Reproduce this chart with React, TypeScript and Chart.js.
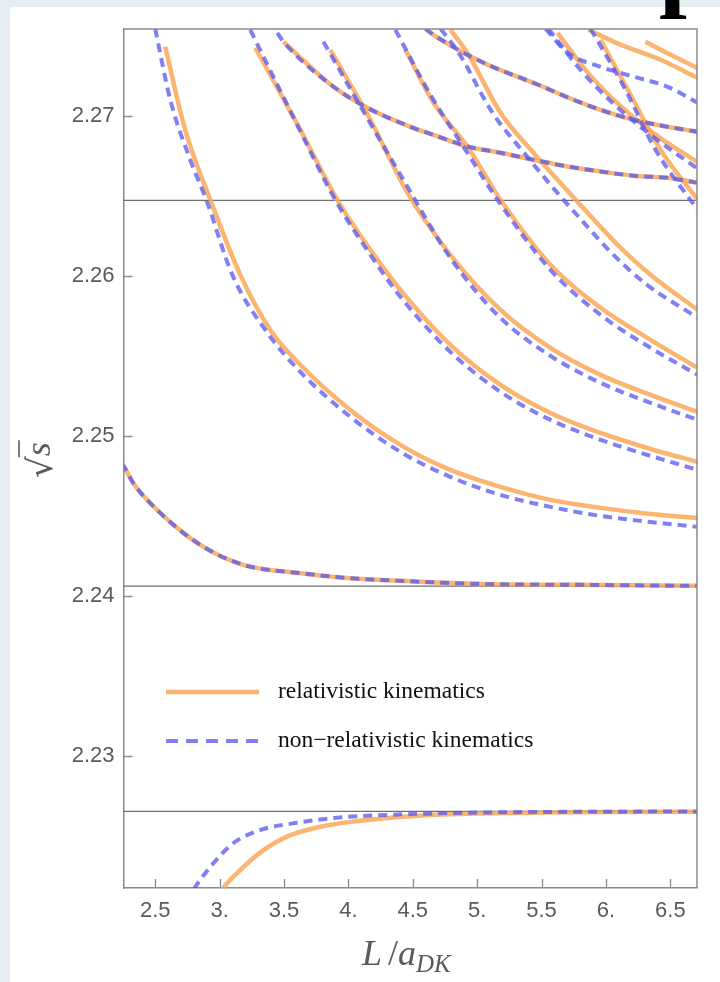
import React, { useEffect, useRef } from 'react';
import { Chart, registerables } from 'chart.js';

Chart.register(...registerables);

// Axis ticks
const xTicks = [2.5, 3, 3.5, 4, 4.5, 5, 5.5, 6, 6.5];
const xTickLabels = ['2.5', '3.', '3.5', '4.', '4.5', '5.', '5.5', '6.', '6.5'];
const yTicks = [2.23, 2.24, 2.25, 2.26, 2.27];
const yTickLabels = ['2.23', '2.24', '2.25', '2.26', '2.27'];
const xRange = [2.254, 6.707];
const yRange = [2.22177, 2.27544];

// Horizontal reference energies
const thresholds = [2.22656, 2.24063, 2.26473];

// Energy levels, relativistic kinematics: [L/a, sqrt(s)]
const relA = [[2.99, 2.2213], [3.031, 2.2218], [3.16, 2.22289], [3.315, 2.22398], [3.523, 2.22498], [3.782, 2.2256], [4.093, 2.22597], [4.504, 2.22627], [5.0, 2.22642], [5.5, 2.22649], [6.0, 2.22652], [6.72, 2.22654]];
const relB = [[2.24, 2.2483], [2.259, 2.24808], [2.329, 2.24708], [2.539, 2.24521], [2.85, 2.24321], [3.184, 2.24196], [3.627, 2.24144], [4.016, 2.24113], [4.35, 2.24098], [5.025, 2.24077], [5.802, 2.24071], [6.72, 2.24065]];
const relC = [[2.578, 2.27433], [2.733, 2.26914], [2.928, 2.26477], [3.161, 2.26008], [3.394, 2.25664], [3.627, 2.25446], [4.015, 2.25164], [4.404, 2.24946], [4.792, 2.24789], [5.181, 2.24683], [5.569, 2.24602], [5.958, 2.24552], [6.346, 2.24514], [6.712, 2.24489]];
const relD = [[3.277, 2.27427], [3.627, 2.26914], [3.914, 2.26477], [4.171, 2.26164], [4.404, 2.25914], [4.792, 2.2557], [5.181, 2.2532], [5.569, 2.25145], [5.958, 2.2502], [6.346, 2.2492], [6.712, 2.24839]];
const relE = [[3.86, 2.27414], [4.171, 2.26977], [4.458, 2.26521], [4.792, 2.26133], [5.181, 2.25789], [5.569, 2.25552], [5.958, 2.25383], [6.346, 2.25258], [6.712, 2.25152]];
const relF = [[4.443, 2.27414], [4.661, 2.27083], [4.925, 2.26808], [5.181, 2.26477], [5.569, 2.26071], [5.958, 2.25802], [6.346, 2.25602], [6.712, 2.25427]];
const relG = [[4.792, 2.27539], [4.924, 2.27396], [5.181, 2.27021], [5.437, 2.26771], [5.624, 2.26602], [5.857, 2.26396], [6.09, 2.26196], [6.346, 2.26008], [6.712, 2.25789]];
const relH = [[5.624, 2.2752], [5.857, 2.27273], [6.09, 2.27079], [6.37, 2.26892], [6.712, 2.26711]];
const relI = [[5.958, 2.27477], [6.191, 2.27133], [6.424, 2.26789], [6.712, 2.26477]];
const relM = [[3.496, 2.27464], [3.885, 2.27183], [4.147, 2.27052], [4.482, 2.26933], [4.661, 2.26883], [4.925, 2.2681], [5.181, 2.26771], [5.437, 2.26727], [5.702, 2.26685], [5.958, 2.26654], [6.215, 2.26627], [6.479, 2.26614], [6.712, 2.26583]];
const relN = [[4.598, 2.27546], [4.66, 2.27508], [5.049, 2.27333], [5.437, 2.27208], [5.748, 2.27102], [5.958, 2.27039], [6.215, 2.26977], [6.479, 2.26933], [6.712, 2.26902]];
const relT1 = [[5.865, 2.27539], [6.113, 2.27446], [6.424, 2.27352], [6.712, 2.27239]];
const relT2 = [[6.307, 2.27464], [6.502, 2.27383], [6.712, 2.273]];

// Energy levels, non-relativistic kinematics
const nrA = [[2.8, 2.2217], [2.832, 2.22208], [2.929, 2.2231], [3.108, 2.22458], [3.316, 2.22539], [3.601, 2.22585], [3.912, 2.22616], [4.482, 2.22639], [5.0, 2.22648], [5.5, 2.22652], [6.72, 2.22655]];
const nrB = [[2.24, 2.2483], [2.259, 2.24808], [2.329, 2.24708], [2.539, 2.24521], [2.85, 2.24321], [3.184, 2.24196], [3.627, 2.24144], [4.016, 2.24113], [4.35, 2.24098], [5.025, 2.24077], [5.802, 2.24071], [6.72, 2.24065]];
const nrC = [[2.5, 2.27546], [2.617, 2.27102], [2.772, 2.26727], [2.897, 2.26477], [3.099, 2.26008], [3.355, 2.25664], [3.627, 2.25402], [4.015, 2.25121], [4.404, 2.24902], [4.792, 2.24746], [5.181, 2.24633], [5.569, 2.24558], [5.958, 2.24502], [6.346, 2.24464], [6.712, 2.24433]];
const nrD = [[3.238, 2.27539], [3.603, 2.26945], [3.898, 2.26477], [4.171, 2.26133], [4.404, 2.25871], [4.792, 2.25527], [5.181, 2.25277], [5.569, 2.25102], [5.958, 2.24977], [6.346, 2.24877], [6.712, 2.24789]];
const nrE = [[3.806, 2.27464], [4.132, 2.27008], [4.427, 2.26602], [4.792, 2.26114], [5.181, 2.25739], [5.569, 2.25502], [5.958, 2.25333], [6.346, 2.25208], [6.712, 2.25102]];
const nrF = [[4.365, 2.27539], [4.637, 2.27133], [4.909, 2.26789], [5.158, 2.26477], [5.569, 2.26039], [5.958, 2.25758], [6.346, 2.25552], [6.712, 2.25383]];
const nrG = [[4.716, 2.27546], [4.856, 2.27396], [5.119, 2.27021], [5.383, 2.26752], [5.569, 2.26571], [5.802, 2.26358], [6.035, 2.26152], [6.308, 2.25952], [6.712, 2.2574]];
const nrH = [[5.553, 2.27546], [5.802, 2.27289], [6.051, 2.27083], [6.346, 2.26883], [6.712, 2.26671]];
const nrI = [[5.88, 2.27546], [6.152, 2.27164], [6.385, 2.26789], [6.712, 2.26414]];
const nrM = [[3.448, 2.2752], [3.496, 2.27464], [3.885, 2.27183], [4.147, 2.27052], [4.482, 2.26933], [4.661, 2.26883], [4.925, 2.2681], [5.181, 2.26771], [5.437, 2.26727], [5.702, 2.26685], [5.958, 2.26654], [6.215, 2.26627], [6.479, 2.26614], [6.712, 2.26583]];
const nrN = [[4.598, 2.27546], [4.66, 2.27508], [5.049, 2.27333], [5.437, 2.27208], [5.748, 2.27102], [5.958, 2.27039], [6.215, 2.26977], [6.479, 2.26933], [6.712, 2.26902]];
const nrT = [[5.53, 2.27546], [5.701, 2.27396], [5.958, 2.27308], [6.215, 2.27246], [6.479, 2.27183], [6.712, 2.27083]];

const relLevels = [relA, relB, relC, relD, relE, relF, relG, relH, relI, relM, relN, relT1, relT2];
const nrLevels = [nrA, nrB, nrC, nrD, nrE, nrF, nrG, nrH, nrI, nrM, nrN, nrT];

const legendLabels = ['relativistic kinematics', 'non\u2212relativistic kinematics'];

const ORANGE = 'rgba(252, 168, 88, 0.85)';
const BLUE = 'rgba(92, 92, 238, 0.78)';
const AXIS = '#8a8a8a';
const LABEL = '#5a5a5a';

const toPts = (arr: number[][]) => arr.map(([x, y]) => ({ x, y }));

const framePlugin = {
  id: 'frameTicks',
  afterDraw(chart: any) {
    const { ctx, chartArea: a, scales } = chart;
    ctx.save();
    ctx.strokeStyle = AXIS;
    ctx.lineWidth = 1.5;
    ctx.beginPath();
    ctx.moveTo(a.left, a.top);
    ctx.lineTo(a.right, a.top);
    ctx.lineTo(a.right, a.bottom);
    ctx.stroke();
    ctx.lineWidth = 1.3;
    ctx.beginPath();
    xTicks.forEach((t) => {
      const px = Math.round(scales.x.getPixelForValue(t)) + 0.5;
      ctx.moveTo(px, a.bottom);
      ctx.lineTo(px, a.bottom - 9);
    });
    yTicks.forEach((t) => {
      const py = Math.round(scales.y.getPixelForValue(t)) + 0.5;
      ctx.moveTo(a.left, py);
      ctx.lineTo(a.left + 9, py);
    });
    ctx.stroke();
    ctx.restore();
  },
};

const textPlugin = {
  id: 'titlesLegend',
  afterDraw(chart: any) {
    const { ctx } = chart;
    ctx.save();
    // x title: L / a_DK
    ctx.fillStyle = LABEL;
    ctx.textBaseline = 'alphabetic';
    ctx.textAlign = 'left';
    let x = 362;
    const base = 965;
    ctx.font = 'italic 36px "Liberation Serif"';
    ctx.fillText('L', x, base);
    x += ctx.measureText('L').width + 6;
    ctx.font = '36px "Liberation Serif"';
    ctx.fillText('/', x, base);
    x += ctx.measureText('/').width;
    ctx.font = 'italic 36px "Liberation Serif"';
    ctx.fillText('a', x, base);
    x += ctx.measureText('a').width;
    ctx.font = 'italic 25px "Liberation Serif"';
    ctx.fillText('DK', x, base + 7);

    // y title: sqrt(s), rotated
    ctx.translate(52, 478);
    ctx.rotate(-Math.PI / 2);
    ctx.font = '34px "DejaVu Serif"';
    ctx.fillText('\u221A', 0, 0);
    const rw = ctx.measureText('\u221A').width;
    ctx.font = 'italic 36px "Liberation Serif"';
    ctx.fillText('s', rw, -2);
    const sw = ctx.measureText('s').width;
    ctx.strokeStyle = LABEL;
    ctx.lineWidth = 1.6;
    ctx.beginPath();
    ctx.moveTo(rw - 1, -33);
    ctx.lineTo(rw + sw + 2, -33);
    ctx.stroke();
    ctx.setTransform(1, 0, 0, 1, 0, 0);

    // legend
    ctx.lineWidth = 4.5;
    ctx.strokeStyle = ORANGE;
    ctx.beginPath();
    ctx.moveTo(166, 692);
    ctx.lineTo(259, 692);
    ctx.stroke();
    ctx.strokeStyle = BLUE;
    ctx.lineWidth = 4;
    ctx.setLineDash([12, 8]);
    ctx.beginPath();
    ctx.moveTo(166, 741);
    ctx.lineTo(262, 741);
    ctx.stroke();
    ctx.setLineDash([]);
    ctx.fillStyle = '#111';
    ctx.font = '23.5px "Liberation Serif"';
    ctx.textBaseline = 'middle';
    ctx.fillText(legendLabels[0], 278, 692);
    ctx.fillText(legendLabels[1], 278, 741);
    ctx.restore();
  },
};

export default function App() {
  const ref = useRef<HTMLCanvasElement | null>(null);

  useEffect(() => {
    if (!ref.current) return;
    const datasets: any[] = [];
    thresholds.forEach((t) => {
      datasets.push({
        data: [{ x: xRange[0], y: t }, { x: xRange[1], y: t }],
        borderColor: '#6f6f6f',
        borderWidth: 1.2,
        pointRadius: 0,
        showLine: true,
        order: 3,
      });
    });
    relLevels.forEach((lv) => {
      datasets.push({
        data: toPts(lv),
        borderColor: ORANGE,
        borderWidth: 4.5,
        pointRadius: 0,
        showLine: true,
        cubicInterpolationMode: 'monotone',
        order: 2,
      });
    });
    nrLevels.forEach((lv) => {
      datasets.push({
        data: toPts(lv),
        borderColor: BLUE,
        borderWidth: 4,
        borderDash: [9, 6],
        pointRadius: 0,
        showLine: true,
        cubicInterpolationMode: 'monotone',
        order: 1,
      });
    });

    const chart = new Chart(ref.current, {
      type: 'scatter',
      data: { datasets },
      options: {
        animation: false,
        responsive: false,
        devicePixelRatio: 1,
        layout: { padding: { left: 0, right: 23, top: 29, bottom: 0 } },
        plugins: { legend: { display: false }, tooltip: { enabled: false } },
        scales: {
          x: {
            type: 'linear',
            min: xRange[0],
            max: xRange[1],
            afterBuildTicks: (s: any) => { s.ticks = xTicks.map((v) => ({ value: v })); },
            afterFit: (s: any) => { s.height = 94; },
            grid: { display: false, drawTicks: false },
            border: { display: true, color: AXIS, width: 1.5 },
            ticks: {
              padding: 10,
              color: LABEL,
              font: { family: '"Liberation Sans", Arial', size: 22 },
              callback: (v: any) => xTickLabels[xTicks.findIndex((t) => Math.abs(t - v) < 1e-6)] ?? '',
            },
          },
          y: {
            type: 'linear',
            min: yRange[0],
            max: yRange[1],
            afterBuildTicks: (s: any) => { s.ticks = yTicks.map((v) => ({ value: v })); },
            afterFit: (s: any) => { s.width = 123.5; },
            grid: { display: false, drawTicks: false },
            border: { display: true, color: AXIS, width: 1.5 },
            ticks: {
              padding: 9,
              color: LABEL,
              font: { family: '"Liberation Sans", Arial', size: 22 },
              callback: (v: any) => yTickLabels[yTicks.findIndex((t) => Math.abs(t - v) < 1e-6)] ?? '',
            },
          },
        },
      },
      plugins: [framePlugin, textPlugin],
    });
    return () => chart.destroy();
  }, []);

  return (
    <div style={{ position: 'fixed', left: 0, top: 0, width: 720, height: 982, background: '#e4edf1', overflow: 'hidden' }}>
      <div style={{ position: 'absolute', left: 10, top: 7, width: 710, height: 975, background: '#ffffff' }} />
      <div style={{ position: 'absolute', left: 659, top: -85, fontFamily: '"Liberation Serif"', fontWeight: 'bold', fontSize: 100, lineHeight: '100px', color: '#000' }}>p</div>
      <canvas ref={ref} width={720} height={982} style={{ position: 'absolute', left: 0, top: 0, width: 720, height: 982 }} />
    </div>
  );
}
